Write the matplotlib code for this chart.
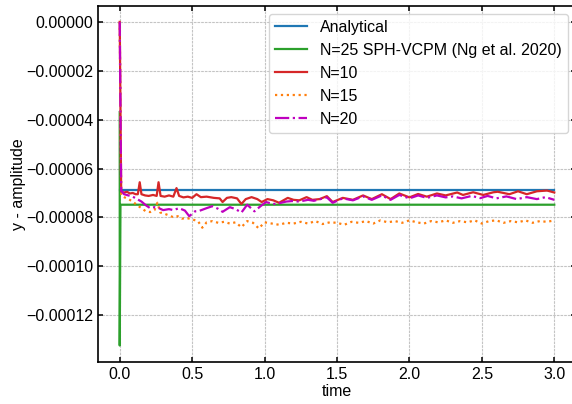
import numpy as np
import matplotlib
matplotlib.use("Agg")
import matplotlib.pyplot as plt

# all amplitudes below are in units of 1e-5
SCALE = 1e-5

# analytical solution (constant)
t_an = [0.0, 3.0]
y_an = [-6.88, -6.88]

# N=25 SPH-VCPM (Ng et al. 2020)
t_ng = [0.0, 0.0, 0.005, 3.0]
y_ng = [-3.69, -13.24, -7.48, -7.48]

# N=10
t_n10 = [0.000, 0.010, 0.030, 0.050, 0.070, 0.090, 0.110, 0.125, 0.138, 0.150,
         0.175, 0.200, 0.230, 0.255, 0.268, 0.282, 0.310, 0.340, 0.370, 0.392,
         0.410, 0.440, 0.470, 0.500, 0.530, 0.560, 0.600, 0.650, 0.690, 0.710,
         0.740, 0.770, 0.810, 0.840, 0.870, 0.910, 0.950, 0.980, 1.020, 1.060,
         1.100, 1.160, 1.200, 1.240, 1.290, 1.330, 1.380, 1.430, 1.470, 1.540,
         1.610, 1.680, 1.740, 1.810, 1.870, 1.930, 2.000, 2.060, 2.120, 2.190,
         2.250, 2.330, 2.370, 2.440, 2.510, 2.580, 2.610, 2.690, 2.750, 2.810,
         2.880, 2.950, 3.000]
y_n10 = [0.00, -6.95, -6.98, -6.95, -7.02, -7.00, -7.05, -7.05, -6.56, -7.05,
         -7.10, -7.12, -7.08, -7.12, -6.56, -7.12, -7.15, -7.10, -7.15, -6.80,
         -7.12, -7.18, -7.15, -7.20, -7.05, -7.17, -7.15, -7.20, -7.22, -7.37,
         -7.20, -7.17, -7.22, -7.45, -7.25, -7.17, -7.25, -7.37, -7.25, -7.30,
         -7.40, -7.20, -7.28, -7.30, -7.17, -7.28, -7.25, -7.13, -7.37, -7.20,
         -7.28, -7.10, -7.25, -7.05, -7.25, -7.02, -7.18, -7.04, -7.15, -7.02,
         -7.10, -6.98, -7.08, -6.97, -7.08, -6.97, -6.95, -7.05, -6.93, -7.05,
         -6.93, -6.90, -6.98]

# N=15
t_n15 = [0.000, 0.010, 0.030, 0.060, 0.090, 0.120, 0.150, 0.180, 0.210, 0.240,
         0.260, 0.280, 0.310, 0.340, 0.370, 0.400, 0.430, 0.460, 0.500, 0.540,
         0.570, 0.600, 0.640, 0.680, 0.720, 0.760, 0.800, 0.840, 0.880, 0.920,
         0.960, 1.000, 1.050, 1.100, 1.150, 1.200, 1.250, 1.300, 1.350, 1.400,
         1.450, 1.500, 1.550, 1.600, 1.650, 1.700, 1.750, 1.800, 1.850, 1.900,
         1.950, 2.000, 2.050, 2.100, 2.150, 2.200, 2.250, 2.300, 2.350, 2.400,
         2.450, 2.500, 2.550, 2.600, 2.650, 2.700, 2.750, 2.800, 2.850, 2.900,
         2.950, 3.000]
y_n15 = [0.00, -7.10, -7.17, -7.25, -7.35, -7.50, -7.62, -7.75, -7.78, -7.70,
         -7.40, -7.80, -7.85, -7.92, -7.99, -7.95, -8.05, -8.02, -8.08, -8.15,
         -8.42, -8.20, -8.15, -8.22, -8.18, -8.25, -8.20, -8.40, -8.15, -8.22,
         -8.45, -8.20, -8.25, -8.30, -8.22, -8.25, -8.18, -8.25, -8.15, -8.27,
         -8.20, -8.22, -8.30, -8.18, -8.22, -8.15, -8.25, -8.12, -8.20, -8.15,
         -8.22, -8.12, -8.20, -8.25, -8.15, -8.20, -8.12, -8.22, -8.15, -8.20,
         -8.12, -8.25, -8.15, -8.12, -8.22, -8.15, -8.20, -8.12, -8.22, -8.15,
         -8.18, -8.12]

# N=20
t_n20 = [0.000, 0.010, 0.030, 0.060, 0.090, 0.120, 0.150, 0.180, 0.210, 0.240,
         0.270, 0.300, 0.340, 0.370, 0.410, 0.450, 0.480, 0.520, 0.550, 0.600,
         0.640, 0.680, 0.710, 0.760, 0.800, 0.840, 0.880, 0.930, 0.970, 1.010,
         1.060, 1.100, 1.150, 1.190, 1.240, 1.300, 1.340, 1.430, 1.470, 1.540,
         1.610, 1.680, 1.740, 1.810, 1.870, 1.930, 2.000, 2.060, 2.120, 2.190,
         2.250, 2.300, 2.360, 2.430, 2.490, 2.540, 2.600, 2.670, 2.740, 2.810,
         2.880, 2.940, 3.000]
y_n20 = [0.00, -6.90, -7.05, -7.10, -7.15, -7.25, -7.35, -7.50, -7.62, -7.58,
         -7.62, -7.70, -7.66, -7.70, -7.62, -7.72, -7.95, -7.75, -7.73, -7.62,
         -7.54, -7.65, -7.77, -7.58, -7.66, -7.80, -7.48, -7.75, -7.55, -7.37,
         -7.45, -7.42, -7.35, -7.33, -7.35, -7.28, -7.32, -7.18, -7.40, -7.22,
         -7.30, -7.14, -7.28, -7.10, -7.28, -7.08, -7.22, -7.10, -7.20, -7.10,
         -7.18, -7.14, -7.22, -7.12, -7.21, -7.12, -7.22, -7.14, -7.25, -7.17,
         -7.25, -7.17, -7.28]

plt.rcParams['font.family'] = ['Liberation Sans', 'DejaVu Sans']
plt.rcParams['font.size'] = 11.5

fig = plt.figure(figsize=(5.72, 4.04), dpi=100)
ax = fig.add_axes([98/572, (404-361.7)/404, 478/572, (361.7-5.7)/404])

ax.plot(t_an, np.array(y_an)*SCALE, color='tab:blue', lw=1.6, label='Analytical')
ax.plot(t_ng, np.array(y_ng)*SCALE, color='tab:green', lw=1.6,
        label='N=25 SPH-VCPM (Ng et al. 2020)')
ax.plot(t_n10, np.array(y_n10)*SCALE, color='tab:red', lw=1.6, label='N=10')
ax.plot(t_n15, np.array(y_n15)*SCALE, color='tab:orange', lw=1.6, ls=':', label='N=15')
ax.plot(t_n20, np.array(y_n20)*SCALE, color='m', lw=1.6, ls='-.', label='N=20')

ax.set_xlabel('time', labelpad=2)
ax.set_ylabel('y - amplitude', labelpad=0)
ax.ticklabel_format(axis='y', style='plain', useOffset=False)
ax.tick_params(direction='in', top=True, right=True, width=1.1)
for sp in ax.spines.values():
    sp.set_linewidth(1.2)
ax.grid(True, ls=(0, (2.4, 0.9)), color='#c4c4c4', lw=0.8)
ax.legend(loc='upper right')

fig.savefig('out.png', dpi=100)
